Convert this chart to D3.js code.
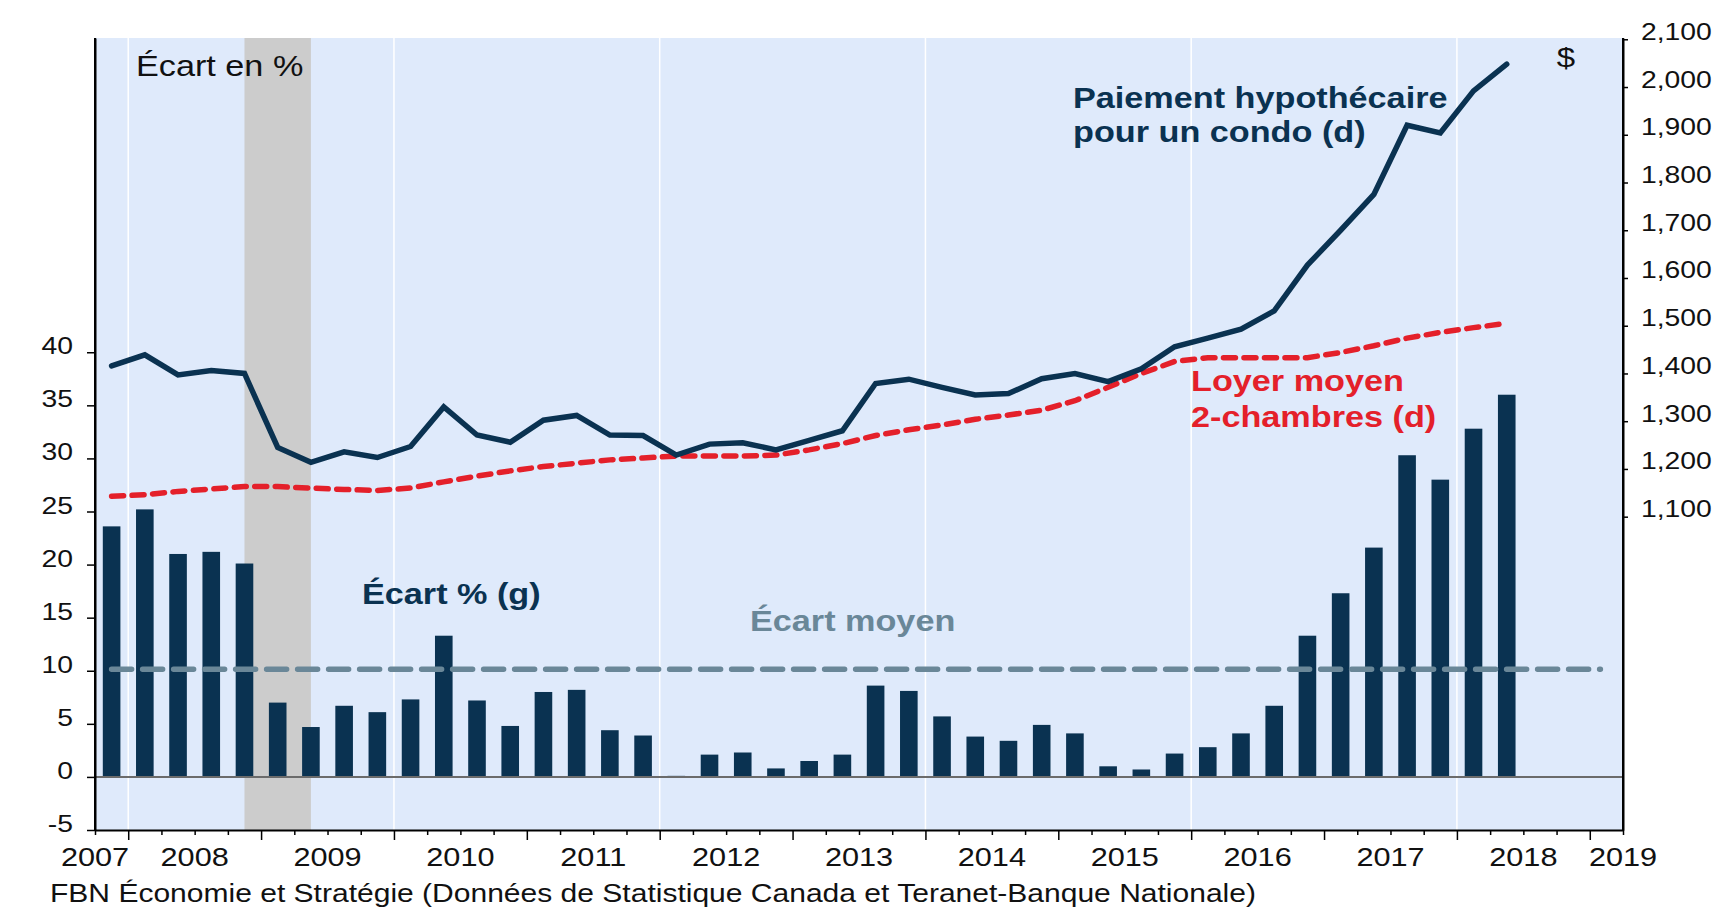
<!DOCTYPE html>
<html>
<head>
<meta charset="utf-8">
<script src="https://cdn.jsdelivr.net/npm/d3@7"></script>
<style>
    body { margin: 0; background: #fff; }
    svg text { font-family: "Liberation Sans", Arial, sans-serif; }
</style>
</head>
<body>
<div class="chart1"></div>
<script>
// quarters with data (T = trimestre)
var quarters = ["2007T4",
    "2008T1", "2008T2", "2008T3", "2008T4", "2009T1", "2009T2", "2009T3", "2009T4",
    "2010T1", "2010T2", "2010T3", "2010T4", "2011T1", "2011T2", "2011T3", "2011T4",
    "2012T1", "2012T2", "2012T3", "2012T4", "2013T1", "2013T2", "2013T3", "2013T4",
    "2014T1", "2014T2", "2014T3", "2014T4", "2015T1", "2015T2", "2015T3", "2015T4",
    "2016T1", "2016T2", "2016T3", "2016T4", "2017T1", "2017T2", "2017T3", "2017T4",
    "2018T1", "2018T2"];
// empty quarters at the end of the axis
var extraQuarters = ["2018T3", "2018T4", "2019T1"];

// écart en % (g)
var ecart = [23.6, 25.2, 21.0, 21.2, 20.1, 7.0, 4.7, 6.7, 6.1, 7.3,
    13.3, 7.2, 4.8, 8.0, 8.2, 4.4, 3.9, 0.1, 2.1, 2.3,
    0.8, 1.5, 2.1, 8.6, 8.1, 5.7, 3.8, 3.4, 4.9, 4.1,
    1.0, 0.7, 2.2, 2.8, 4.1, 6.7, 13.3, 17.3, 21.6, 30.3,
    28.0, 32.8, 36.0];
// paiement hypothécaire pour un condo, $ (d)
var paiement = [1416, 1439, 1397, 1406, 1400, 1245, 1214, 1236, 1224, 1247,
    1330, 1271, 1256, 1302, 1312, 1271, 1270, 1229, 1252, 1255,
    1240, 1260, 1280, 1379, 1388, 1371, 1355, 1358, 1389, 1400,
    1383, 1410, 1456, 1474, 1493, 1531, 1627, 1700, 1775, 1920,
    1904, 1992, 2048];
// loyer moyen 2-chambres, $ (d)
var loyer = [1143, 1146, 1153, 1158, 1163, 1163, 1160, 1157, 1155, 1160,
    1173, 1185, 1196, 1205, 1212, 1219, 1223, 1227, 1227, 1227,
    1229, 1240, 1253, 1270, 1282, 1292, 1304, 1313, 1323, 1343,
    1371, 1400, 1425, 1433, 1433, 1433, 1433, 1444, 1458, 1474,
    1486, 1496, 1505];
var ecartMoyen = 10.15;
var recession = ["2008T4", "2009T2"];

var yearLabels = ["2007", "2008", "2009", "2010", "2011", "2012", "2013",
    "2014", "2015", "2016", "2017", "2018", "2019"];
var leftTicks = [-5, 0, 5, 10, 15, 20, 25, 30, 35, 40];
var rightTicks = [1100, 1200, 1300, 1400, 1500, 1600, 1700, 1800, 1900, 2000, 2100];

var navy = "#0a3251";
var red = "#e4202a";
var slate = "#6a8798";
var SX = 1.18; // the original text is a bit stretched horizontally

var margins = { top: 38, right: 98, bottom: 78, left: 95 };
var width = 1721 - margins.left - margins.right;
var height = 908 - margins.top - margins.bottom;

var allQuarters = quarters.concat(extraQuarters);

var x = d3.scaleBand()
    .domain(allQuarters)
    .range([0, width])
    .paddingInner(0.47)
    .paddingOuter(0.235);

// quarter boundaries (0 = left edge of the first quarter)
var xEdge = d3.scaleLinear()
    .domain([0, allQuarters.length])
    .range([0, width]);

var yL = d3.scaleLinear()
    .domain([-5, 69.6])
    .range([height, 0]);

var yR = d3.scaleLinear()
    .domain([443.7, 2102.7])
    .range([height, 0]);

function cx(q) {
    return x(q) + x.bandwidth() / 2;
}

var svgRoot = d3.select(".chart1").append("svg")
    .attr("width", 1721)
    .attr("height", 908);

var svg = svgRoot.append("g")
    .attr("transform", "translate(" + margins.left + "," + margins.top + ")");

// background
svg.append("rect")
    .attr("width", width)
    .attr("height", height)
    .attr("fill", "#dfeafb");

// recession shading
svg.append("rect")
    .attr("x", cx(recession[0]))
    .attr("width", cx(recession[1]) - cx(recession[0]))
    .attr("y", 0)
    .attr("height", height)
    .attr("fill", "#cccccc");

// white gridlines every two years
var gridQ = allQuarters.filter(function (q) {
    return /T1$/.test(q) && (+q.slice(0, 4)) % 2 === 0;
});
svg.selectAll(".grid")
    .data(gridQ)
    .enter().append("line")
    .attr("class", "grid")
    .attr("x1", function (q) { return xEdge(allQuarters.indexOf(q)); })
    .attr("x2", function (q) { return xEdge(allQuarters.indexOf(q)); })
    .attr("y1", 0)
    .attr("y2", height)
    .attr("stroke", "#fff")
    .attr("stroke-width", 1.5);

// bars
svg.selectAll(".bar")
    .data(quarters)
    .enter().append("rect")
    .attr("class", "bar")
    .attr("x", function (q) { return x(q); })
    .attr("width", x.bandwidth())
    .attr("y", function (q, i) { return yL(Math.max(0, ecart[i])); })
    .attr("height", function (q, i) { return Math.abs(yL(ecart[i]) - yL(0)); })
    .attr("fill", navy);

// zero line
svg.append("line")
    .attr("x1", 0)
    .attr("x2", width)
    .attr("y1", yL(0))
    .attr("y2", yL(0))
    .attr("stroke", "#6b6b6b")
    .attr("stroke-width", 2);

// average gap
svg.append("line")
    .attr("x1", cx(allQuarters[0]))
    .attr("x2", cx(allQuarters[allQuarters.length - 1]) - 6)
    .attr("y1", yL(ecartMoyen))
    .attr("y2", yL(ecartMoyen))
    .attr("stroke", slate)
    .attr("stroke-width", 5.5)
    .attr("stroke-linecap", "round")
    .attr("stroke-dasharray", "20,11");

// rent line
var line = d3.line()
    .x(function (d) { return cx(d.q); })
    .y(function (d) { return yR(d.v); });

svg.append("path")
    .datum(quarters.map(function (q, i) { return { q: q, v: loyer[i] }; }))
    .attr("d", line)
    .attr("fill", "none")
    .attr("stroke", red)
    .attr("stroke-width", 5.5)
    .attr("stroke-linecap", "round")
    .attr("stroke-dasharray", "12,8.5");

// mortgage payment line
svg.append("path")
    .datum(quarters.map(function (q, i) { return { q: q, v: paiement[i] }; }))
    .attr("d", line)
    .attr("fill", "none")
    .attr("stroke", navy)
    .attr("stroke-width", 5.5)
    .attr("stroke-linecap", "round");

// axes
var axisX = svg.append("g")
    .attr("transform", "translate(0," + height + ")")
    .call(d3.axisBottom(xEdge)
        .tickValues(d3.range(0, allQuarters.length + 1))
        .tickSize(5)
        .tickSizeOuter(0)
        .tickFormat(""));
axisX.selectAll(".tick line")
    .attr("y2", function (i) { return i % 4 === 1 ? 10 : 5; });

var axisL = svg.append("g")
    .call(d3.axisLeft(yL)
        .tickValues(leftTicks)
        .tickSize(8)
        .tickSizeOuter(0)
        .tickFormat(function (d) { return String(d); }));
axisL.selectAll(".tick text")
    .attr("x", 0)
    .attr("dy", null)
    .attr("transform", "translate(-22,1.5) scale(" + SX + ",1)");

var axisR = svg.append("g")
    .attr("transform", "translate(" + width + ",0)")
    .call(d3.axisRight(yR)
        .tickValues(rightTicks)
        .tickSize(5)
        .tickSizeOuter(0)
        .tickFormat(d3.format(",")));
axisR.selectAll(".tick text")
    .attr("x", 0)
    .attr("dy", null)
    .attr("transform", "translate(18,0) scale(" + SX + ",1)");

// axis lines run the full height
svg.append("line")
    .attr("x1", 0).attr("x2", 0)
    .attr("y1", 0).attr("y2", height)
    .attr("stroke", "#000").attr("stroke-width", 2);
svg.append("line")
    .attr("x1", width).attr("x2", width)
    .attr("y1", 0).attr("y2", height)
    .attr("stroke", "#000").attr("stroke-width", 2);

svg.selectAll(".domain")
    .attr("stroke", "#000")
    .attr("stroke-width", 2);
svg.selectAll(".tick line")
    .attr("stroke", "#000")
    .attr("stroke-width", 1.5);
axisL.selectAll(".tick text").style("font-size", "24px").attr("fill", "#111");
axisR.selectAll(".tick text").style("font-size", "24px").attr("fill", "#111");

// year labels, centred on the middle of each year
svg.selectAll(".year")
    .data(yearLabels)
    .enter().append("text")
    .attr("class", "year")
    .attr("text-anchor", "middle")
    .attr("transform", function (y) {
        var idx = Math.max(0, Math.min(allQuarters.length, (+y - 2008) * 4 + 3));
        return "translate(" + xEdge(idx) + "," + (height + 36) + ") scale(" + SX + ",1)";
    })
    .style("font-size", "26px")
    .attr("fill", "#111")
    .text(function (y) { return y; });

function label(txt, px, py, size, weight, color, anchor, sx) {
    svgRoot.append("text")
        .attr("transform", "translate(" + px + "," + py + ") scale(" + (sx || SX) + ",1)")
        .attr("text-anchor", anchor || "start")
        .style("font-size", size + "px")
        .style("font-weight", weight)
        .attr("fill", color)
        .text(txt);
}

label("Écart en %", 136, 76, 29, "normal", "#111");
label("$", 1566, 67, 28, "normal", "#111", "middle");
label("Paiement hypothécaire", 1073, 108, 29, "bold", navy);
label("pour un condo (d)", 1073, 142, 29, "bold", navy);
label("Loyer moyen", 1191, 391, 29, "bold", red);
label("2-chambres (d)", 1191, 427, 29, "bold", red);
label("Écart % (g)", 362, 604, 29, "bold", navy);
label("Écart moyen", 750, 631, 29, "bold", slate);
label("FBN Économie et Stratégie (Données de Statistique Canada et Teranet-Banque Nationale)", 50, 902, 26, "normal", "#111", "start", 1.155);
</script>
</body>
</html>
